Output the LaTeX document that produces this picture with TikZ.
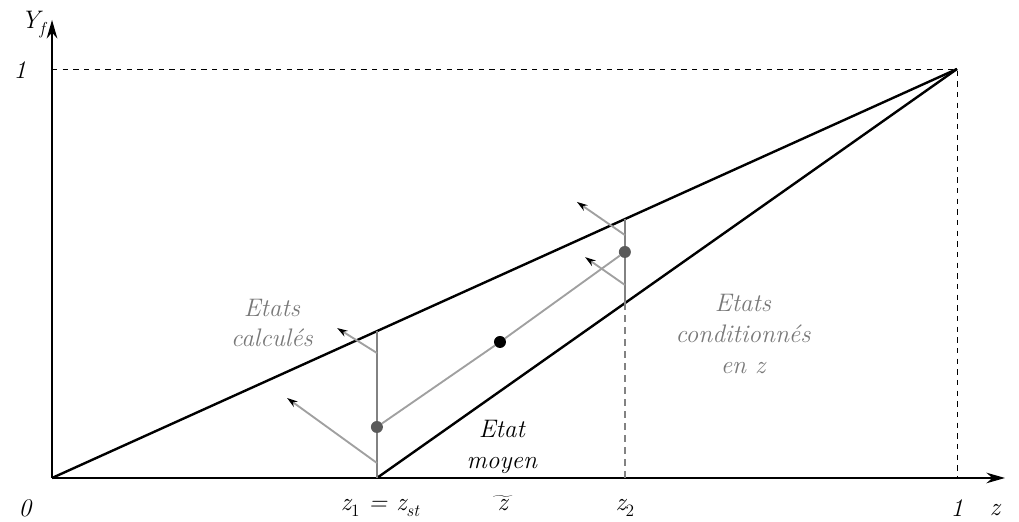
\documentclass[tikz,border=0pt]{standalone}
\usepackage{fontspec}
\usepackage{tikz}
\usetikzlibrary{positioning,calc,arrows.meta}

\definecolor{lightgrey}{RGB}{160,160,160}
\definecolor{midgrey}{RGB}{130,130,130}
\definecolor{dotgrey}{RGB}{90,90,90}
\definecolor{labelgrey}{RGB}{120,120,120}
\newcommand{\lowidx}[1]{\raisebox{-0.55ex}{\fontsize{13}{13}\selectfont #1}}

\begin{document}
\begin{tikzpicture}[x=678.75pt, y=306.75pt,
    every node/.style={font=\fontsize{19}{23}\selectfont\itshape},
    axis/.style={line width=1pt, -{Stealth[length=14pt,width=8pt]}},
    bound/.style={line width=1.8pt},
    guide/.style={dash pattern=on 4pt off 4pt, line width=0.7pt},
    state/.style={midgrey, line width=2pt},
    move/.style={lightgrey, line width=1.4pt, -{Stealth[length=8pt,width=5pt,black]}},
    dot/.style={circle, inner sep=0pt, minimum size=9pt},
    txt/.style={align=center}]
    \useasboundingbox (-0.0575,-0.1076) rectangle (1.0685,1.1687);

    % points of the diagram
    \coordinate (o) at (0,0);
    \coordinate (z1) at (0.359,0);
    \coordinate (z2) at (0.633,0);
    \coordinate (one) at (1,1);
    \coordinate (z1top) at (0.359,0.359);
    \coordinate (z2top) at (0.633,0.633);
    \coordinate (z2bot) at (0.633,0.4275);

    % axes
    \draw[axis] (o) -- (1.053,0) coordinate (xend);
    \draw[axis] (o) -- (0,1.12) coordinate (yend);
    \draw[guide] (0,1) -- (one) -- (1,0);

    % bounds
    \draw[bound] (o) -- (one);
    \draw[bound] (z1) -- (one);
    \draw[line width=2.2pt] (o) -- (z1);

    % computed states
    \draw[state] (z1) -- (z1top);
    \draw[state] (z2bot) -- (z2top);
    \draw[state, dash pattern=on 5pt off 4pt] (z2) -- (z2bot);
    \node[dot, fill=dotgrey] (A) at (0.359,0.1247) {};
    \node[dot, fill=black] (M) at (0.495,0.3325) {};
    \node[dot, fill=dotgrey] (B) at (0.633,0.5526) {};
    \draw[lightgrey, line width=1.4pt] (A) -- (M) -- (B);

    \draw[move] (0.359,0.3056) -- (0.315,0.3667);
    \draw[move] (0.359,0.0367) -- (0.2597,0.1956);
    \draw[move] (0.633,0.594) -- (0.580,0.675);
    \draw[move] (0.633,0.472) -- (0.589,0.540);

    % labels
    \node (lzero) at (-0.0298,-0.0733) {0};
    \node (lone) at (-0.0354,0.9976) {1};
    \node (lY) at (-0.021,1.108) {Y\lowidx{\itshape f}};
    \node (lz1) at (0.3624,-0.0733) {z\lowidx{\upshape 1} = z\lowidx{st}};
    \node (lzt) at (0.498,-0.062) {$\widetilde{\hbox{\kern.35em\itshape z\kern.35em}}$};
    \node (lz2) at (0.633,-0.0733) {z\lowidx{\upshape 2}};
    \node (lxone) at (1,-0.0733) {1};
    \node (lz) at (1.042,-0.078) {z};
    \node[txt, labelgrey] (calc) at (0.243,0.379) {Etats\\calculés};
    \node[txt] (moy) at (0.497,0.076) {Etat\\moyen};
    \node[txt, labelgrey] (cond) at (0.7635,0.352) {Etats\\conditionnés\\en z};
\end{tikzpicture}
\end{document}
